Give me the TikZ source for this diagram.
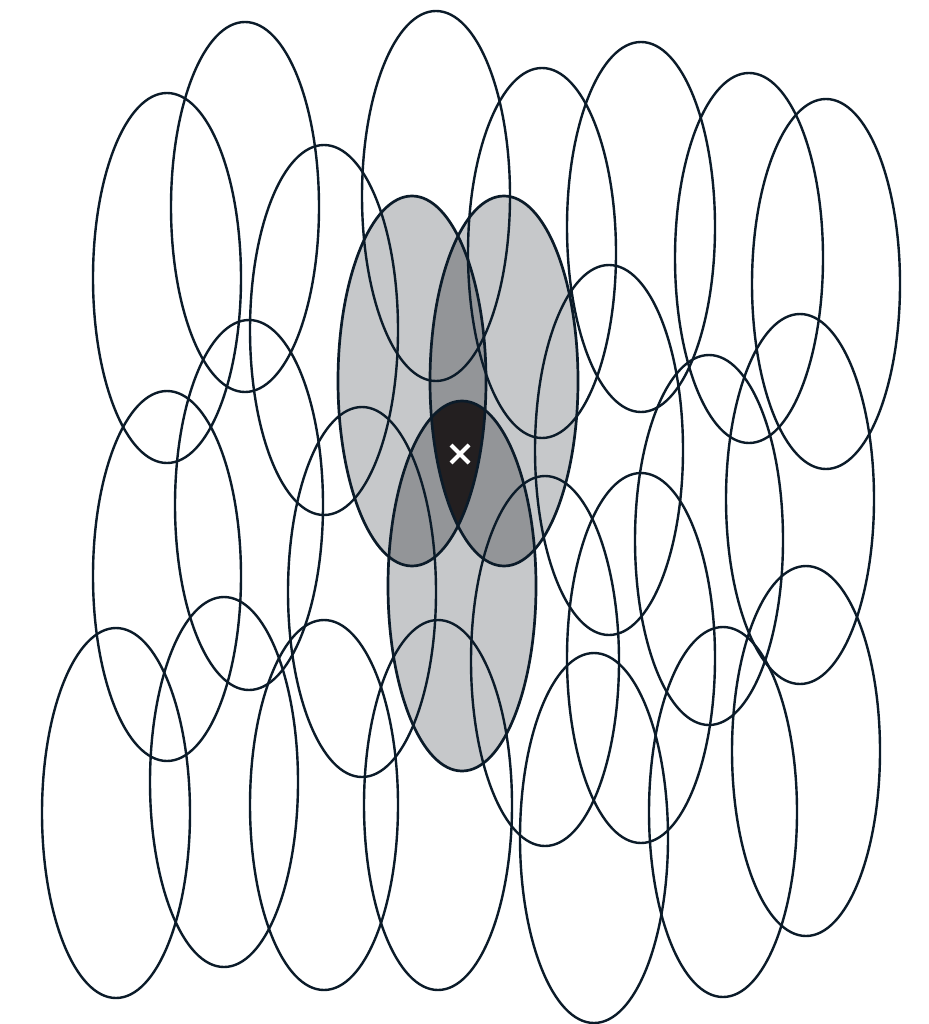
\documentclass[tikz,border=0pt]{standalone}
\usetikzlibrary{calc}
\definecolor{stroke}{HTML}{0B1B29}
\definecolor{lightg}{HTML}{C6C8CA}
\definecolor{midg}{HTML}{939598}
\definecolor{darkg}{HTML}{231F20}
\tikzset{
  ell/.style={draw=stroke, line width=2.4pt},
  gell/.style={draw=stroke, line width=2.7pt},
}
\newcommand{\ellpath}[1]{(#1) ellipse [x radius=74pt, y radius=185pt]}
\begin{document}
\begin{tikzpicture}[x=1pt,y=-1pt]
\useasboundingbox (0,0) rectangle (928,1024);
\fill[white] (0,0) rectangle (928,1024);
% gray ellipse centres
\coordinate (A) at (412,381);
\coordinate (B) at (504,381);
\coordinate (C) at (462,586);
% fills
\fill[lightg] \ellpath{A};
\fill[lightg] \ellpath{B};
\fill[lightg] \ellpath{C};
\begin{scope}
  \clip \ellpath{A};
  \fill[midg] \ellpath{B};
  \fill[midg] \ellpath{C};
\end{scope}
\begin{scope}
  \clip \ellpath{B};
  \fill[midg] \ellpath{C};
\end{scope}
\begin{scope}
  \clip \ellpath{A};
  \clip \ellpath{B};
  \fill[darkg] \ellpath{C};
\end{scope}
% outlines of all other ellipses
\foreach \p in {
  {167,278},{245,207},{324,330},{436,196},{542,253},{641,227},{749,258},{826,284},
  {249,505},{167,576},{362,592},{609,450},{709,540},{800,499},
  {545,661},{641,658},{806,751},
  {116,813},{224,782},{324,805},{438,805},{594,838},{723,812}}
  \draw[ell] \ellpath{\p};
% gray ellipse outlines
\draw[gell] \ellpath{A};
\draw[gell] \ellpath{B};
\draw[gell] \ellpath{C};
% marker
\coordinate (X) at (460,454);
\draw[white, line width=4pt] ($(X)+(-9,-9)$) -- ($(X)+(9,9)$);
\draw[white, line width=4pt] ($(X)+(-9,9)$) -- ($(X)+(9,-9)$);
\end{tikzpicture}
\end{document}
